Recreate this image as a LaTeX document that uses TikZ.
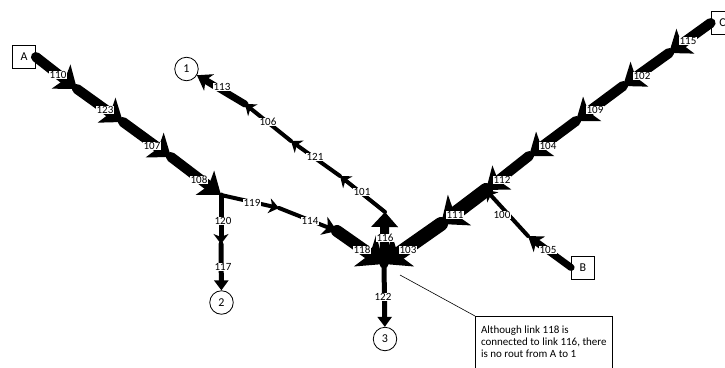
\documentclass[tikz,border=0pt]{standalone}
\usepackage{fontspec}
\setmainfont{Carlito}
\usetikzlibrary{arrows.meta}

\begin{document}
\begin{tikzpicture}[x=1pt,y=-1pt,
  lnk/.style={line width=#1,line cap=round},
  hugetip/.style={-{Stealth[length=23pt,width=38pt,inset=6pt]}},
  bigtip/.style={-{Stealth[length=20pt,width=30pt,inset=4.5pt]}},
  midtip/.style={-{Stealth[length=14pt,width=19pt,inset=4pt]}},
  smalltip/.style={-{Stealth[length=10pt,width=15pt,inset=3pt]}},
  flattip/.style={-{Triangle[length=10pt,width=14pt]}},
  lbl/.style={fill=white,inner sep=0.6pt,font=\fontsize{11}{11}\selectfont},
  zone/.style={draw,line width=0.8pt,minimum size=23pt,inner sep=0pt,font=\fontsize{12}{12}\selectfont},
  sink/.style={draw,circle,line width=0.8pt,minimum size=23.5pt,inner sep=0pt,font=\fontsize{12}{12}\selectfont},
  note/.style={draw,line width=0.7pt,align=left,minimum width=137pt,inner ysep=10pt,font=\fontsize{11}{12}\selectfont}]
\useasboundingbox (0,0) rectangle (725,367);
% origins and destinations
\node[zone] (A) at (24,57) {A};
\node[zone] (B) at (583,267.5) {B};
\node[zone] (C) at (722.5,23) {C};
\node[sink] (n1) at (186.5,69) {1};
\node[sink] (n2) at (221.5,302.5) {2};
\node[sink] (n3) at (385,339) {3};
% link ends
\coordinate (a1) at (77,89);
\coordinate (a2) at (123,122);
\coordinate (a3) at (171,157);
\coordinate (j1) at (221,195);
\coordinate (b1) at (279,208);
\coordinate (b2) at (337,231);
\coordinate (j0) at (384,264);
\coordinate (d1) at (221,244);
\coordinate (t116) at (385,212);
\coordinate (e1) at (340,176);
\coordinate (e2) at (291,141);
\coordinate (e3) at (245,104);
\coordinate (c1) at (669,53);
\coordinate (c2) at (623,86);
\coordinate (c3) at (576,121);
\coordinate (c4) at (529,156);
\coordinate (j2) at (486,190);
\coordinate (c5) at (441,224);
\coordinate (f1) at (528,236);
% from B
\draw[lnk=7pt,midtip] (B.west) -- (f1);
\draw[lnk=4pt,smalltip] (f1) -- (j2);
% from A
\foreach \p/\q in {A.east/a1,a1/a2,a2/a3,a3/j1}
	\draw[lnk=10pt,bigtip] (\p) -- (\q);
\draw[lnk=4pt,smalltip] (j1) -- (b1);
\draw[lnk=4pt,midtip] (b1) -- (b2);
\draw[lnk=12pt,hugetip] (b2) -- (j0);
\draw[lnk=5pt,smalltip] (j1) -- (d1);
\draw[lnk=5pt,flattip] (d1) -- (n2);
\draw[lnk=5pt,flattip] (j0) -- (n3);
% towards 1
\draw[lnk=9pt,-{Triangle[length=15pt,width=26pt]}] (j0) -- (t116);
\foreach \p/\q in {t116/e1,e1/e2,e2/e3}
	\draw[lnk=4pt,smalltip] (\p) -- (\q);
\draw[lnk=7pt,midtip] (e3) -- (n1);
% from C
\foreach \p/\q in {C.west/c1,c1/c2,c2/c3,c3/c4,c4/j2}
	\draw[lnk=10pt,bigtip] (\p) -- (\q);
\draw[lnk=14pt,hugetip] (j2) -- (c5);
\draw[lnk=14pt,hugetip] (c5) -- (j0);
% link numbers
\foreach \t/\x/\y in {110/58/75,123/105/110,107/152/146,108/199/180,
	119/252/203,114/310/221,118/362/250,116/385/238,103/408/250,
	120/223/221,117/223/267,122/383/297,101/362/192,121/315/157,
	106/268/122,113/222/87,115/688/41,102/642/76,109/595/110,
	104/548/146,112/502/180,111/455/215,100/502/215,105/548/250}
	\node[lbl] (l\t) at (\x,\y) {\t};
% remark
\coordinate (pin) at (400,275);
\node[note,anchor=north west] (note) at (475,316) {Although link 118 is\\connected to link 116, there\\is no rout from A to 1};
\draw[line width=0.6pt] (pin) -- (note.north west);
\end{tikzpicture}
\end{document}
